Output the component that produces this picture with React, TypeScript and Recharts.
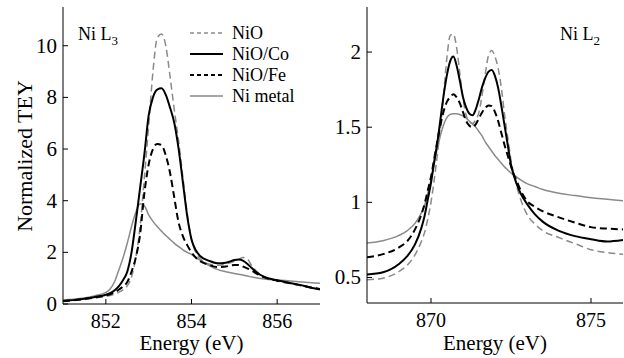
import React from 'react';
import { LineChart, Line, XAxis, YAxis } from 'recharts';

// Ni L3 edge
const energyL3 = [
  851.0, 851.25, 851.5, 851.75, 852.0, 852.1, 852.2, 852.3, 852.4, 852.5, 852.6, 852.7, 852.8, 852.9,
  853.0, 853.1, 853.2, 853.3, 853.4, 853.5, 853.6, 853.7, 853.8, 853.9, 854.0, 854.1, 854.2, 854.4,
  854.6, 854.8, 855.0, 855.1, 855.2, 855.3, 855.4, 855.5, 855.7, 856.0, 856.25, 856.5, 856.75, 857.0,
];
const nioL3 = [
  0.1, 0.13, 0.17, 0.23, 0.3, 0.33, 0.38, 0.45, 0.55, 0.7, 1.05, 1.8, 3.0, 4.9,
  6.9, 9.0, 10.3, 10.45, 10.0, 8.8, 7.5, 6.3, 4.9, 3.5, 2.5, 2.0, 1.75, 1.55,
  1.5, 1.55, 1.65, 1.72, 1.8, 1.75, 1.5, 1.3, 1.05, 0.9, 0.82, 0.75, 0.66, 0.58,
];
const coL3 = [
  0.12, 0.15, 0.2, 0.27, 0.36, 0.42, 0.52, 0.68, 0.92, 1.25, 2.0, 3.2, 4.5, 5.8,
  7.3, 8.0, 8.3, 8.35, 8.1, 7.6, 7.0, 6.0, 4.7, 3.4, 2.5, 2.08, 1.86, 1.68,
  1.58, 1.6, 1.7, 1.72, 1.68, 1.56, 1.4, 1.25, 1.05, 0.92, 0.83, 0.75, 0.65, 0.56,
];
const feL3 = [
  0.12, 0.15, 0.2, 0.26, 0.33, 0.38, 0.45, 0.55, 0.68, 0.85, 1.25, 1.8, 2.7, 4.3,
  5.4, 6.0, 6.2, 6.15, 5.75, 5.07, 4.1, 3.15, 2.62, 2.28, 2.0, 1.8, 1.66, 1.52,
  1.43, 1.45, 1.51, 1.51, 1.45, 1.38, 1.3, 1.2, 1.03, 0.9, 0.82, 0.74, 0.65, 0.58,
];
const metalL3 = [
  0.15, 0.18, 0.23, 0.32, 0.45, 0.58, 0.85, 1.3, 1.78, 2.35, 3.0, 3.55, 3.88, 3.8,
  3.45, 3.2, 3.0, 2.82, 2.65, 2.5, 2.35, 2.22, 2.1, 2.0, 1.92, 1.8, 1.7, 1.5,
  1.34, 1.25, 1.18, 1.15, 1.12, 1.08, 1.05, 1.02, 0.97, 0.93, 0.9, 0.86, 0.83, 0.8,
];

// Ni L2 edge
const energyL2 = [
  868, 868.5, 869, 869.25, 869.5, 869.7, 869.8, 869.9, 870.0, 870.1, 870.2, 870.3, 870.4, 870.5, 870.6,
  870.7, 870.8, 870.9, 871.0, 871.1, 871.2, 871.3, 871.4, 871.5, 871.6, 871.7, 871.8, 871.9, 872.0,
  872.1, 872.2, 872.3, 872.4, 872.5, 872.6, 872.7, 872.8, 873.0, 873.25, 873.5, 874, 874.5, 875, 875.5, 876,
];
const nioL2 = [
  0.485, 0.495, 0.54, 0.58, 0.65, 0.74, 0.8, 0.89, 1.0, 1.15, 1.32, 1.51, 1.73, 1.97, 2.11,
  2.12, 2.03, 1.86, 1.69, 1.58, 1.535, 1.525, 1.55, 1.6, 1.72, 1.86, 1.98, 2.01, 1.97,
  1.89, 1.76, 1.58, 1.43, 1.28, 1.18, 1.09, 1.02, 0.92, 0.855, 0.81, 0.765, 0.725, 0.685, 0.665, 0.655,
];
const coL2 = [
  0.52, 0.535, 0.59, 0.64, 0.72, 0.83, 0.91, 1.02, 1.13, 1.27, 1.4, 1.56, 1.72, 1.85, 1.94,
  1.97, 1.91, 1.81, 1.7, 1.63, 1.59, 1.58, 1.62, 1.69, 1.77, 1.83, 1.87, 1.88, 1.84,
  1.76, 1.64, 1.51, 1.38, 1.25, 1.17, 1.11, 1.06, 0.99, 0.92, 0.87, 0.81, 0.775, 0.755, 0.74, 0.75,
];
const feL2 = [
  0.635, 0.655, 0.7, 0.74, 0.82, 0.92, 0.99, 1.08, 1.17, 1.29, 1.41, 1.52, 1.61, 1.67, 1.7,
  1.72, 1.7, 1.66, 1.6, 1.54, 1.51, 1.5, 1.52, 1.56, 1.6, 1.63, 1.645, 1.64, 1.6,
  1.54, 1.46, 1.38, 1.31, 1.24, 1.18, 1.13, 1.08, 1.01, 0.97, 0.94, 0.9, 0.865, 0.835, 0.825, 0.82,
];
const metalL2 = [
  0.73, 0.745, 0.78, 0.81, 0.86, 0.93, 0.98, 1.06, 1.15, 1.26, 1.36, 1.45, 1.52, 1.565, 1.585,
  1.59, 1.59, 1.585, 1.575, 1.56, 1.54, 1.52, 1.5, 1.47, 1.44, 1.4, 1.37, 1.34, 1.31,
  1.285, 1.26, 1.235, 1.215, 1.195, 1.18, 1.165, 1.15, 1.125, 1.105, 1.085, 1.06, 1.045, 1.03, 1.02, 1.01,
];

const ticksL3x = [852, 854, 856];
const ticksL3y = [0, 2, 4, 6, 8, 10];
const ticksL2x = [870, 875];
const ticksL2y = [0.5, 1, 1.5, 2];

const legendItems = [
  { name: 'NiO', color: '#8a8a8a', dash: '4 3', width: 1.5 },
  { name: 'NiO/Co', color: '#000', dash: undefined, width: 2.2 },
  { name: 'NiO/Fe', color: '#000', dash: '4 3', width: 2 },
  { name: 'Ni metal', color: '#8a8a8a', dash: undefined, width: 1.5 },
];

const FONT = "'Liberation Serif', 'Times New Roman', Times, serif";
const GRAY = '#8a8a8a';
const TL = 5;
const txt = { fontFamily: FONT };

const rows = (e: number[], a: number[], b: number[], c: number[], d: number[]) =>
  e.map((x, i) => ({ e: x, nio: a[i], co: b[i], fe: c[i], metal: d[i] }));

const dataL3 = rows(energyL3, nioL3, coL3, feL3, metalL3);
const dataL2 = rows(energyL2, nioL2, coL2, feL2, metalL2);

const BottomTick = (p: any) => (
  <g>
    <line x1={p.x} x2={p.x} y1={p.y} y2={p.y - TL} stroke="#000" />
    <text x={p.x} y={p.y + 24} textAnchor="middle" fontSize={20} style={txt} fill="#000">
      {p.payload.value}
    </text>
  </g>
);
const TopTick = (p: any) => <line x1={p.x} x2={p.x} y1={p.y} y2={p.y + TL} stroke="#000" />;
const LeftTick = (p: any) => (
  <g>
    <line x1={p.x} x2={p.x + TL} y1={p.y} y2={p.y} stroke="#000" />
    <text x={p.x - 6} y={p.y + 7} textAnchor="end" fontSize={21} style={txt} fill="#000">
      {p.payload.value}
    </text>
  </g>
);
const RightTick = (p: any) => <line x1={p.x} x2={p.x - TL} y1={p.y} y2={p.y} stroke="#000" />;

const series = (
  <>
    <Line xAxisId="b" yAxisId="l" dataKey="nio" type="monotone" stroke={GRAY} strokeWidth={1.5} strokeDasharray="7 4" dot={false} isAnimationActive={false} />
    <Line xAxisId="b" yAxisId="l" dataKey="metal" type="monotone" stroke={GRAY} strokeWidth={1.5} dot={false} isAnimationActive={false} />
    <Line xAxisId="b" yAxisId="l" dataKey="fe" type="monotone" stroke="#000" strokeWidth={2} strokeDasharray="7 4" dot={false} isAnimationActive={false} />
    <Line xAxisId="b" yAxisId="l" dataKey="co" type="monotone" stroke="#000" strokeWidth={2} dot={false} isAnimationActive={false} />
  </>
);

const Panel = ({ data, xDomain, yDomain, xTicks, yTicks, width, yWidth, margin }: any) => (
  <LineChart width={width} height={358} data={data} margin={margin}>
    <XAxis xAxisId="b" dataKey="e" type="number" domain={xDomain} ticks={xTicks} allowDataOverflow height={30}
      tickSize={0} tickMargin={0} tick={BottomTick} axisLine={{ stroke: '#000' }} interval={0} />
    <XAxis xAxisId="t" orientation="top" dataKey="e" type="number" domain={xDomain} ticks={xTicks} allowDataOverflow height={0}
      tickSize={0} tickMargin={0} tick={TopTick} axisLine={{ stroke: '#000' }} interval={0} />
    <YAxis yAxisId="l" type="number" domain={yDomain} ticks={yTicks} allowDataOverflow width={yWidth}
      tickSize={0} tickMargin={0} tick={LeftTick} axisLine={{ stroke: '#000' }} interval={0} />
    <YAxis yAxisId="r" orientation="right" type="number" domain={yDomain} ticks={yTicks} allowDataOverflow width={0}
      tickSize={0} tickMargin={0} tick={RightTick} axisLine={{ stroke: '#000' }} interval={0} />
    {series}
  </LineChart>
);

export default function App() {
  return (
    <div style={{ position: 'absolute', left: 0, top: 0, width: 624, height: 358, background: '#fff', fontFamily: FONT }}>
      <div style={{ position: 'absolute', left: 0, top: 0 }}>
        <Panel data={dataL3} xDomain={[851, 857]} yDomain={[0, 11.5]} xTicks={ticksL3x} yTicks={ticksL3y}
          width={330} yWidth={63} margin={{ top: 7, right: 10, bottom: 24, left: 0 }} />
      </div>
      <div style={{ position: 'absolute', left: 330, top: 0 }}>
        <Panel data={dataL2} xDomain={[868, 876]} yDomain={[0.33, 2.3]} xTicks={ticksL2x} yTicks={ticksL2y}
          width={294} yWidth={37} margin={{ top: 7, right: 1, bottom: 25, left: 0 }} />
      </div>
      <svg width={624} height={358} style={{ position: 'absolute', left: 0, top: 0, pointerEvents: 'none' }}>
        <text transform="rotate(-90, 32, 156)" x={32} y={156} textAnchor="middle" fontSize={22} style={txt}>
          Normalized TEY
        </text>
        <text x={191.5} y={350} textAnchor="middle" fontSize={21} style={txt}>Energy (eV)</text>
        <text x={495} y={350} textAnchor="middle" fontSize={21} style={txt}>Energy (eV)</text>
        <text x={78} y={40} fontSize={18} style={txt}>
          Ni L<tspan fontSize={13} dy={5}>3</tspan>
        </text>
        <text x={560} y={40} fontSize={18} style={txt}>
          Ni L<tspan fontSize={13} dy={5}>2</tspan>
        </text>
        {legendItems.map((it, i) => (
          <g key={it.name}>
            <line x1={190} x2={223} y1={33 + i * 21} y2={33 + i * 21} stroke={it.color}
              strokeWidth={it.width} strokeDasharray={it.dash} />
            <text x={232} y={39 + i * 21} fontSize={18} style={txt}>{it.name}</text>
          </g>
        ))}
      </svg>
    </div>
  );
}
